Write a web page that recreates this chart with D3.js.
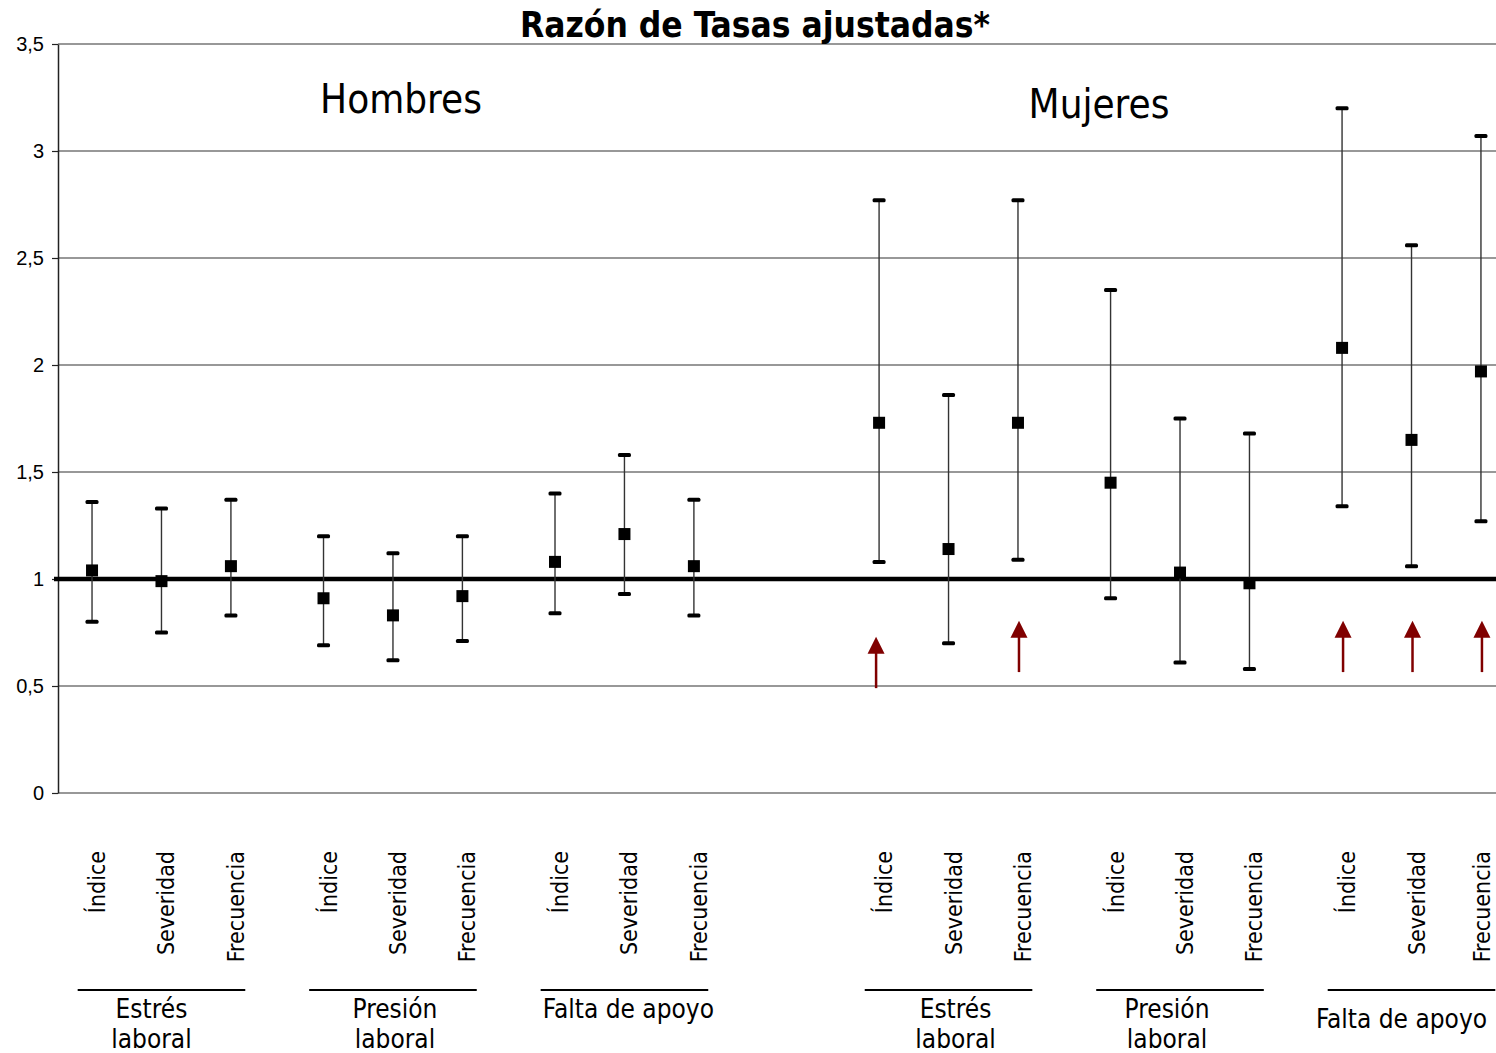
<!DOCTYPE html>
<html><head><meta charset="utf-8">
<script src="https://cdn.jsdelivr.net/npm/d3@7"></script>
<style>body{margin:0;background:#fff}</style></head>
<body>
<svg id="c" width="1496" height="1053"></svg>
<script>
// ---- data ----
const sexes = ["Hombres", "Mujeres"];
const groups = ["Estrés laboral", "Presión laboral", "Falta de apoyo"];
const groupLines = [["Estrés", "laboral"], ["Presión", "laboral"], ["Falta de apoyo"]];
const measures = ["Índice", "Severidad", "Frecuencia"];
// order: sex > group > measure
const rate  = [1.04, 0.99, 1.06,  0.91, 0.83, 0.92,  1.08, 1.21, 1.06,
               1.73, 1.14, 1.73,  1.45, 1.03, 0.98,  2.08, 1.65, 1.97];
const lower = [0.80, 0.75, 0.83,  0.69, 0.62, 0.71,  0.84, 0.93, 0.83,
               1.08, 0.70, 1.09,  0.91, 0.61, 0.58,  1.34, 1.06, 1.27];
const upper = [1.36, 1.33, 1.37,  1.20, 1.12, 1.20,  1.40, 1.58, 1.37,
               2.77, 1.86, 2.77,  2.35, 1.75, 1.68,  3.20, 2.56, 3.07];
const yTicks = [0, 0.5, 1, 1.5, 2, 2.5, 3, 3.5];
const yTickLabels = ["0", "0,5", "1", "1,5", "2", "2,5", "3", "3,5"];
// significance arrows (index into series, arrow from/to in rate units)
const arrowIdx  = [9, 11, 15, 16, 17];
const arrowFrom = [0.49, 0.565, 0.565, 0.565, 0.565];
const arrowTo   = [0.73, 0.805, 0.805, 0.805, 0.805];

// ---- layout tweaks for group label text (px shift of label centre) ----
const groupLabelShift = [[-10, 2, 4], [7, -13, -10]];

// ---- build points ----
const pts = [];
sexes.forEach((s, si) => groups.forEach((g, gi) => measures.forEach((m, mi) => {
  const i = si * 9 + gi * 3 + mi;
  pts.push({i, sex: s, group: g, measure: m, slot: si * 34 + gi * 10 + mi * 3,
            rate: rate[i], lo: lower[i], hi: upper[i]});
})));

const svg = d3.select("#c");
const L = 58, R = 1496, T = 44, B = 793;
const x = d3.scaleLinear().domain([-1.47, 60.65]).range([L, R]);
const y = d3.scaleLinear().domain([0, 3.5]).range([B, T]);
const labelFont = "'DejaVu Sans Condensed','DejaVu Sans',Tahoma,sans-serif";

// gridlines
svg.append("g").selectAll("line").data(yTicks.filter(d => d !== 1)).join("line")
  .attr("x1", L).attr("x2", R).attr("y1", d => y(d)).attr("y2", d => y(d))
  .attr("stroke", "#333").attr("stroke-width", 1.2);

// y axis
const yAxis = d3.axisLeft(y).tickValues(yTicks).tickSize(6).tickSizeOuter(0)
  .tickFormat((d, i) => yTickLabels[i]);
const ya = svg.append("g").attr("transform", `translate(${L},0)`).call(yAxis);
ya.select(".domain").attr("stroke", "#222").attr("stroke-width", 1.5);
ya.selectAll(".tick line").attr("stroke", "#222").attr("stroke-width", 1.2);
ya.selectAll(".tick text").attr("font-family", "'Liberation Sans',Arial,sans-serif")
  .attr("font-size", 20).attr("fill", "#000").attr("dx", "-5");

// reference line at 1
svg.append("line").attr("x1", L - 4).attr("x2", R).attr("y1", y(1)).attr("y2", y(1))
  .attr("stroke", "#000").attr("stroke-width", 4.5);

// error bars
const eb = svg.append("g");
eb.selectAll(".v").data(pts).join("line")
  .attr("x1", d => x(d.slot)).attr("x2", d => x(d.slot))
  .attr("y1", d => y(d.lo)).attr("y2", d => y(d.hi))
  .attr("stroke", "#333").attr("stroke-width", 1.4);
["lo", "hi"].forEach(k => {
  eb.selectAll(".c" + k).data(pts).join("rect")
    .attr("x", d => x(d.slot) - 6.5).attr("y", d => y(d[k]) - 2)
    .attr("width", 13).attr("height", 4).attr("rx", 1.5).attr("fill", "#000");
});
// markers
svg.append("g").selectAll("rect").data(pts).join("rect")
  .attr("x", d => x(d.slot) - 6).attr("y", d => y(d.rate) - 6)
  .attr("width", 12).attr("height", 12).attr("fill", "#000");

// arrows
const ar = svg.append("g");
arrowIdx.forEach((idx, k) => {
  const p = pts[idx];
  const cx = x(p.slot) + (k === 0 ? -3 : 1), yb = y(arrowFrom[k]), yt = y(arrowTo[k]);
  ar.append("line").attr("x1", cx).attr("x2", cx).attr("y1", yb).attr("y2", yt + 12)
    .attr("stroke", "#800000").attr("stroke-width", 2.5);
  ar.append("path").attr("d", `M${cx},${yt} L${cx - 8.5},${yt + 17} L${cx + 8.5},${yt + 17} Z`)
    .attr("fill", "#800000");
});

// category labels (rotated)
svg.append("g").selectAll("text").data(pts).join("text")
  .attr("transform", d => `translate(${Math.min(x(d.slot) + 13, R - 6)},851) rotate(-90)`)
  .attr("text-anchor", "end").attr("font-family", labelFont).attr("font-size", 23)
  .attr("fill", "#000").text(d => d.measure);

// group lines + labels
sexes.forEach((s, si) => groups.forEach((g, gi) => {
  const c = si * 34 + gi * 10 + 3;
  svg.append("line").attr("x1", x(c - 3.62)).attr("x2", x(c + 3.62))
    .attr("y1", 990).attr("y2", 990).attr("stroke", "#000").attr("stroke-width", 2);
  const lines = groupLines[gi];
  const cx = x(c) + groupLabelShift[si][gi];
  const t = svg.append("text").attr("text-anchor", "middle").attr("font-family", labelFont)
    .attr("font-size", 26).attr("fill", "#000");
  if (lines.length === 2) {
    lines.forEach((ln, li) => t.append("tspan").attr("x", cx).attr("y", 1018 + li * 30).text(ln));
  } else {
    t.attr("x", cx).attr("y", si === 0 ? 1018 : 1028).text(lines[0]);
  }
}));

// sex labels
svg.append("text").attr("x", 401).attr("y", 113).attr("text-anchor", "middle")
  .attr("font-family", labelFont).attr("font-size", 40).text(sexes[0]);
svg.append("text").attr("x", 1099).attr("y", 118).attr("text-anchor", "middle")
  .attr("font-family", labelFont).attr("font-size", 40).text(sexes[1]);

// title
svg.append("text").attr("x", 755).attr("y", 37).attr("text-anchor", "middle")
  .attr("font-family", labelFont).attr("font-weight", "bold").attr("font-size", 35)
  .text("Razón de Tasas ajustadas*");
</script>
</body></html>
